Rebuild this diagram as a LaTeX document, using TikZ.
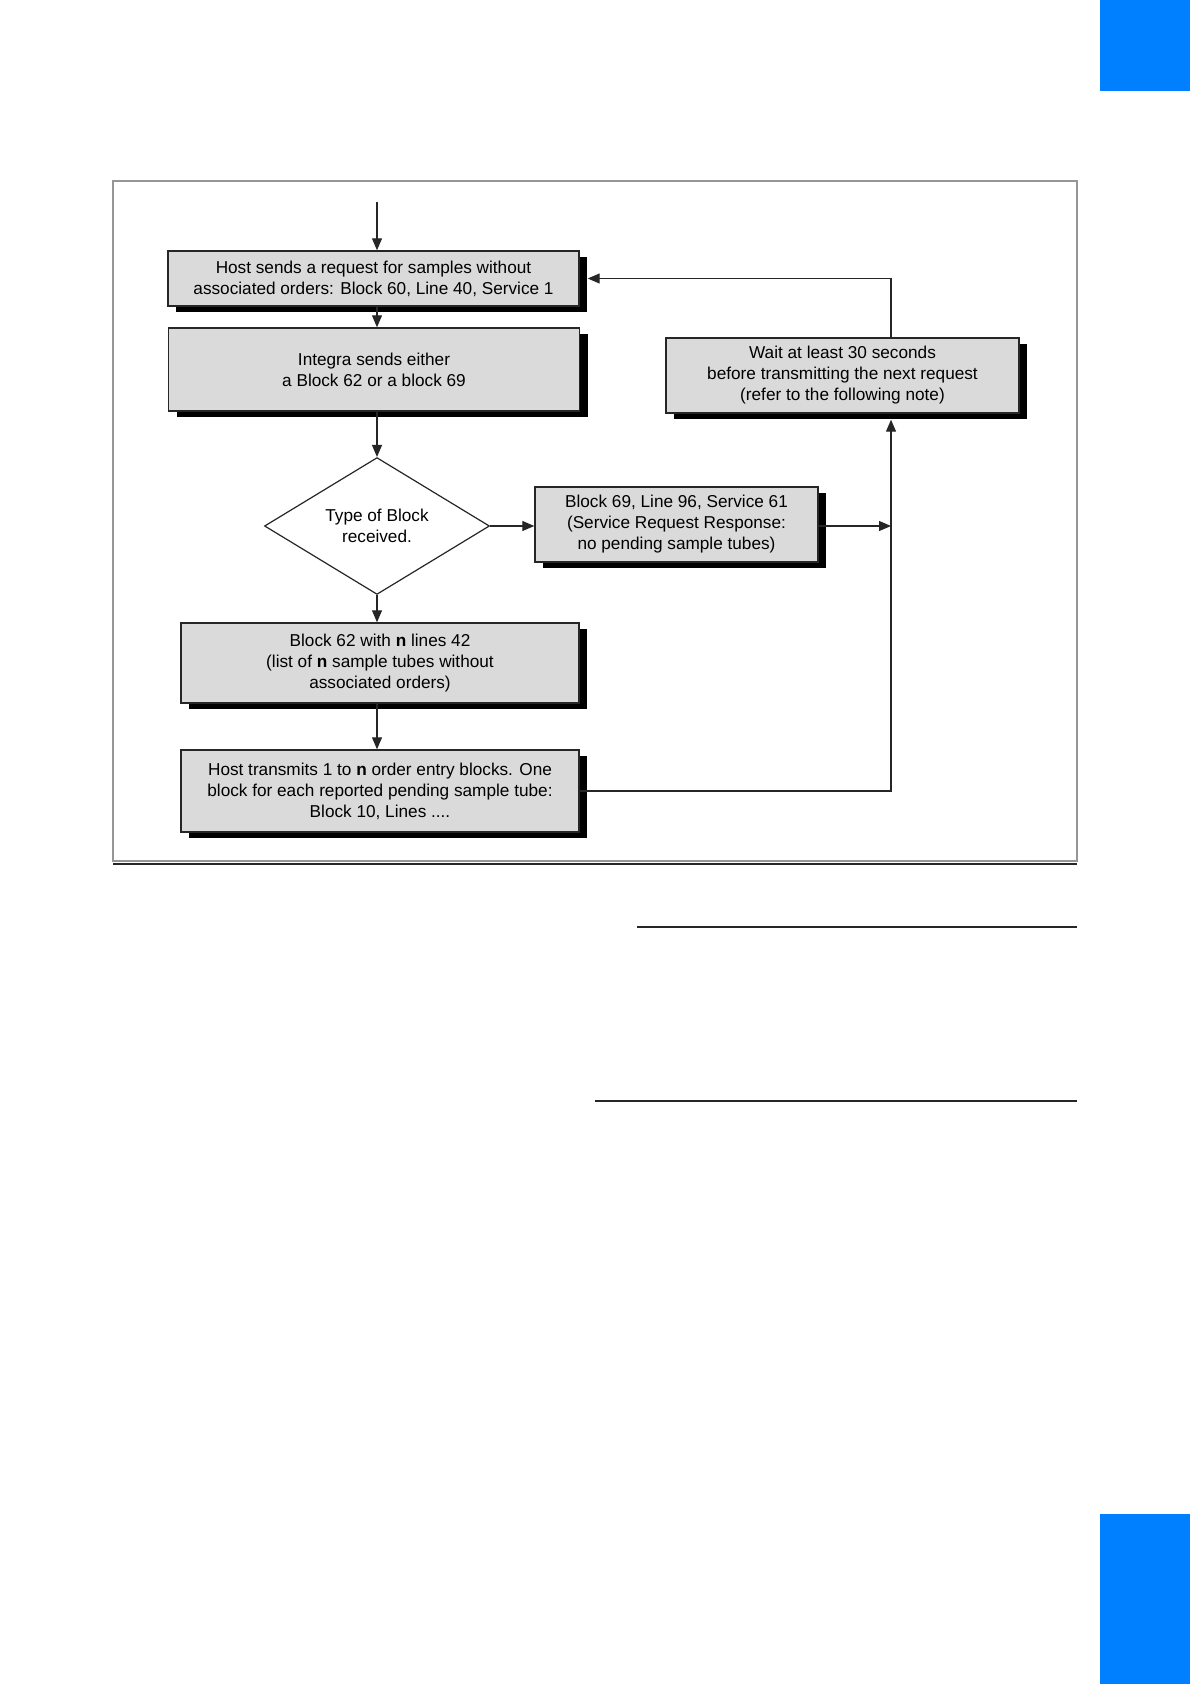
\documentclass[tikz,border=0pt]{standalone}
\usepackage{fontspec}
\setmainfont{Liberation Sans}
\usetikzlibrary{positioning,shapes.geometric,shadows,arrows.meta}

\definecolor{boxfill}{RGB}{218,218,218}
\definecolor{tabblue}{RGB}{0,128,255}
\definecolor{framegray}{RGB}{150,150,150}

\tikzset{
    flowbox/.style={draw=black!85, line width=0.7pt, fill=boxfill, align=center,
        inner sep=0pt, font=\fontsize{8.6}{10.5}\selectfont,
        drop shadow={shadow xshift=4pt, shadow yshift=-3pt, fill=black, opacity=1}},
    decision/.style={diamond, draw=black!85, line width=0.6pt, fill=white, align=center,
        inner sep=0pt, font=\fontsize{8.6}{10.5}\selectfont},
    flowarrow/.style={draw=black!85, line width=0.6pt, -{Triangle[length=6pt,width=5pt]}},
    flowline/.style={draw=black!85, line width=0.6pt}
}

\begin{document}
\begin{tikzpicture}[x=0.5pt, y=-0.5pt]
    \useasboundingbox (0,0) rectangle (1190,1684);

    % page furniture
    \fill[tabblue] (1100,0) rectangle (1190,91);
    \fill[tabblue] (1100,1514) rectangle (1190,1684);
    \draw[framegray, line width=0.8pt] (113,181) rectangle (1077,861);
    \draw[black!85, line width=1pt] (113,864) -- (1077,864);
    \draw[black!85, line width=1pt] (637,927) -- (1077,927);
    \draw[black!85, line width=1pt] (595,1101) -- (1077,1101);

    % boxes
    \node[flowbox, minimum width=205.5pt, minimum height=27.5pt] (start) at (373.5,278.5)
        {Host sends a request for samples without\\associated orders: Block 60, Line 40, Service 1};
    \node[flowbox, minimum width=205.5pt, minimum height=41.5pt] (integra) at (374,369.5)
        {Integra sends either\\a Block 62 or a block 69};
    \node[decision, minimum width=112.5pt, minimum height=66pt] (type) at (377,526)
        {Type of Block\\received.};
    \node[flowbox, minimum width=141.5pt, minimum height=37.5pt] (noblock) at (676.5,524.5)
        {Block 69, Line 96, Service 61\\(Service Request Response:\\no pending sample tubes)};
    \node[flowbox, minimum width=199pt, minimum height=40pt] (list) at (380,663)
        {Block 62 with \textbf{n} lines 42\\(list of \textbf{n} sample tubes without\\associated orders)};
    \node[flowbox, minimum width=199pt, minimum height=41pt] (orders) at (380,791)
        {Host transmits 1 to \textbf{n} order entry blocks. One\\block for each reported pending sample tube:\\Block 10, Lines ....};
    \node[flowbox, minimum width=176.5pt, minimum height=37.5pt] (wait) at (842.5,375.5)
        {Wait at least 30 seconds\\before transmitting the next request\\(refer to the following note)};

    % connectors
    \coordinate (entry) at (377,202);
    \coordinate (merge) at (891,526);
    \draw[flowarrow] (entry) -- (entry |- start.north);
    \draw[flowarrow] (entry |- start.south) -- (entry |- integra.north);
    \draw[flowarrow] (entry |- integra.south) -- (type.north);
    \draw[flowarrow] (type.south) -- (entry |- list.north);
    \draw[flowarrow] (entry |- list.south) -- (entry |- orders.north);
    \draw[flowarrow] (type.east) -- (type.east -| noblock.west);
    \draw[flowarrow] (type.east -| noblock.east) -- (merge);
    \draw[flowline] (orders.east) -| (merge);
    \draw[flowarrow] (merge) -- ([yshift=-3pt]wait.south -| merge);
    \draw[flowarrow] (wait.north -| merge) |- ([xshift=4pt]start.east);
\end{tikzpicture}
\end{document}
